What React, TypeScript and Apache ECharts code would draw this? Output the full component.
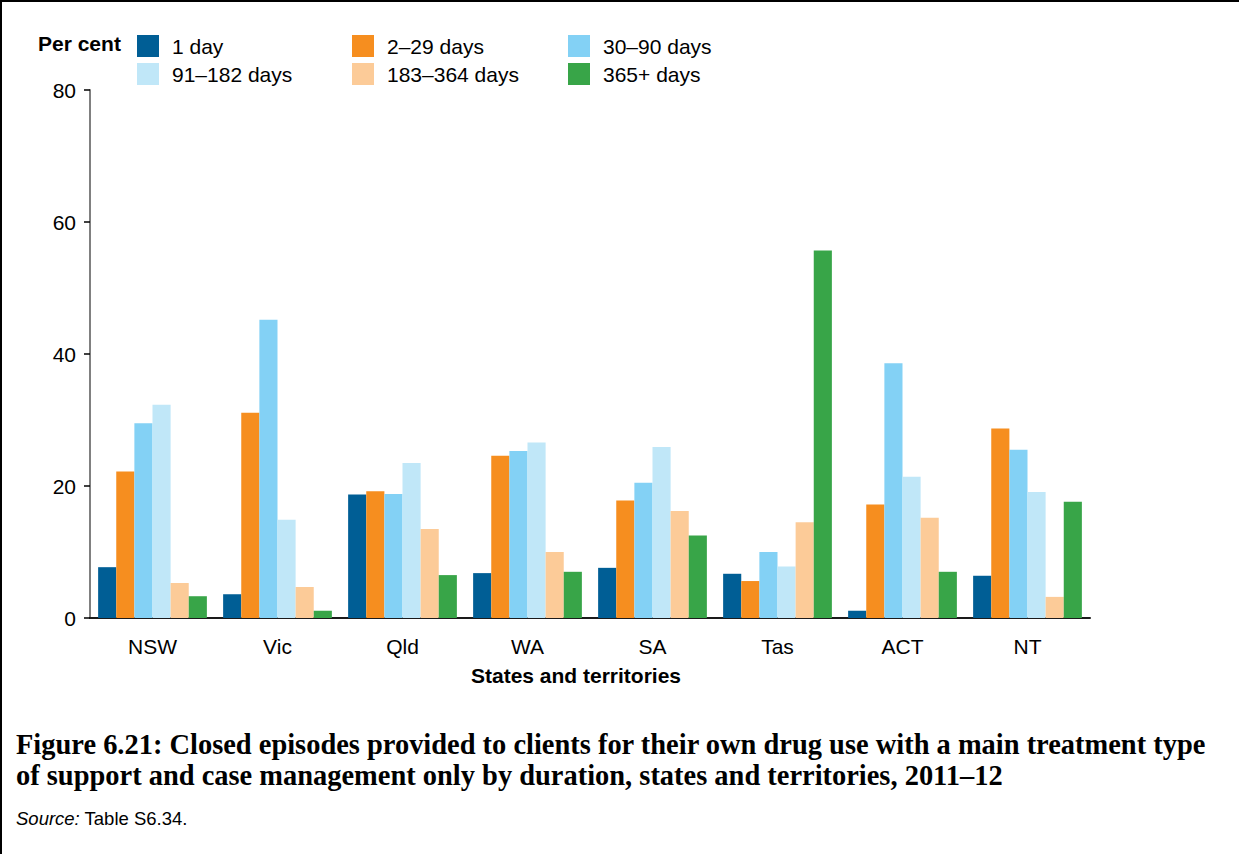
import React, { useEffect, useRef } from "react";
import * as echarts from "echarts";

const categories = ["NSW", "Vic", "Qld", "WA", "SA", "Tas", "ACT", "NT"];
const seriesNames = ["1 day", "2–29 days", "30–90 days", "91–182 days", "183–364 days", "365+ days"];
const oneDay = [7.7, 3.6, 18.7, 6.8, 7.6, 6.7, 1.1, 6.4];
const days2to29 = [22.2, 31.1, 19.2, 24.6, 17.8, 5.6, 17.2, 28.7];
const days30to90 = [29.5, 45.2, 18.8, 25.3, 20.5, 10.0, 38.6, 25.5];
const days91to182 = [32.3, 14.9, 23.5, 26.6, 25.9, 7.8, 21.4, 19.1];
const days183to364 = [5.3, 4.7, 13.5, 10.0, 16.2, 14.5, 15.2, 3.2];
const days365plus = [3.3, 1.1, 6.5, 7.0, 12.5, 55.7, 7.0, 17.6];
const yTicks = [0, 20, 40, 60, 80];

const colors = ["#005E95", "#F68E1F", "#83D1F5", "#C0E7F8", "#FCCB98", "#38A548"];
const SANS = '"Liberation Sans", Arial, sans-serif';
const SERIF = '"Liberation Serif", "Times New Roman", serif';

const captionLine1 =
  "Figure 6.21: Closed episodes provided to clients for their own drug use with a main treatment type";
const captionLine2 =
  "of support and case management only by duration, states and territories, 2011–12";

function fitFontSize(text: string, font: string, weight: string, target: number, fallback: number) {
  try {
    const c = document.createElement("canvas").getContext("2d");
    if (!c) return fallback;
    c.font = `${weight} 100px ${font}`;
    const w = c.measureText(text).width;
    if (!w) return fallback;
    return (100 * target) / w;
  } catch (e) {
    return fallback;
  }
}

export default function App() {
  const ref = useRef<HTMLDivElement>(null);

  useEffect(() => {
    document.body.style.margin = "0";
    if (!ref.current) return;
    const chart = echarts.init(ref.current, undefined, { renderer: "svg" });
    const dataSets = [oneDay, days2to29, days30to90, days91to182, days183to364, days365plus];
    const capSize = fitFontSize(captionLine1, SERIF, "bold", 1191, 24);

    const legendCol = (left: number, names: string[]) => ({
      left,
      top: 35,
      orient: "vertical",
      padding: 0,
      itemWidth: 22,
      itemHeight: 22,
      itemGap: 6,
      icon: "rect",
      selectedMode: false,
      data: names,
      textStyle: { fontFamily: SANS, fontSize: 21, color: "#000", padding: [7, 0, 0, 8] },
    });

    chart.setOption({
      animation: false,
      backgroundColor: "#fff",
      color: colors,
      grid: { left: 90, right: 149, top: 90, bottom: 236, containLabel: false },
      legend: [
        legendCol(137, [seriesNames[0], seriesNames[3]]),
        legendCol(352, [seriesNames[1], seriesNames[4]]),
        legendCol(568, [seriesNames[2], seriesNames[5]]),
      ],
      xAxis: {
        type: "category",
        data: categories,
        axisLine: { lineStyle: { color: "#1a1a1a", width: 2 } },
        axisTick: { show: false },
        axisLabel: { fontFamily: SANS, fontSize: 21, color: "#000", margin: 18 },
      },
      yAxis: {
        type: "value",
        min: yTicks[0],
        max: yTicks[yTicks.length - 1],
        interval: 20,
        axisLine: { show: true, lineStyle: { color: "#808080", width: 2 } },
        axisTick: { show: true, length: 6, lineStyle: { color: "#000", width: 1.5 } },
        splitLine: { show: false },
        axisLabel: { fontFamily: SANS, fontSize: 21, color: "#000", margin: 14 },
      },
      series: dataSets.map((d, i) => ({
        name: seriesNames[i],
        type: "bar",
        data: d,
        barGap: "0%",
        barCategoryGap: "13%",
        itemStyle: { color: colors[i] },
      })),
      graphic: [
        { type: "rect", shape: { x: 0, y: 0, width: 1239, height: 2 }, style: { fill: "#000" } },
        { type: "rect", shape: { x: 0, y: 0, width: 2, height: 854 }, style: { fill: "#000" } },
        {
          type: "text",
          x: 38,
          y: 43,
          style: {
            text: "Per cent",
            font: `bold 21px ${SANS}`,
            fill: "#000",
            verticalAlign: "middle",
          },
        },
        {
          type: "text",
          x: 576,
          y: 675,
          style: {
            text: "States and territories",
            font: `bold 21px ${SANS}`,
            fill: "#000",
            align: "center",
            verticalAlign: "middle",
          },
        },
        {
          type: "text",
          x: 16,
          y: 760,
          style: {
            text: captionLine1 + "\n" + captionLine2,
            font: `bold ${capSize}px ${SERIF}`,
            lineHeight: 31,
            fill: "#000",
            verticalAlign: "middle",
          },
        },
        {
          type: "text",
          x: 16,
          y: 818,
          style: {
            text: "{i|Source:} Table S6.34.",
            font: `18.5px ${SANS}`,
            fill: "#000",
            verticalAlign: "middle",
            rich: {
              i: { fontStyle: "italic", fontFamily: SANS, fontSize: 18.5, fill: "#000" },
            },
          },
        },
      ],
    });

    return () => chart.dispose();
  }, []);

  return <div ref={ref} style={{ width: 1239, height: 854 }} />;
}
